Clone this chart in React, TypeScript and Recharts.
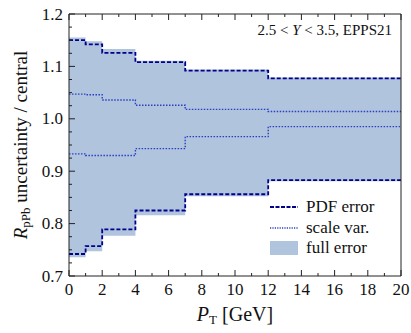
import React from "react";
import { ComposedChart, Area, Line, XAxis, YAxis } from "recharts";

// bin edges in pT (GeV), one value per bin for each band edge
const edges = [0, 1, 2, 4, 7, 12, 20];
const fullHi = [1.155, 1.148, 1.133, 1.111, 1.094, 1.079];
const fullLo = [0.736, 0.747, 0.777, 0.816, 0.852, 0.881];
const pdfHi = [1.15, 1.142, 1.126, 1.108, 1.092, 1.077];
const pdfLo = [0.742, 0.757, 0.789, 0.825, 0.856, 0.883];
const scaleHi = [1.047, 1.046, 1.036, 1.026, 1.018, 1.014];
const scaleLo = [0.933, 0.93, 0.93, 0.943, 0.966, 0.985];

const xTicks = [0, 1, 2, 3, 4, 5, 6, 7, 8, 9, 10, 11, 12, 13, 14, 15, 16, 17, 18, 19, 20];
const yTicks = [
  0.7, 0.725, 0.75, 0.775, 0.8, 0.825, 0.85, 0.875, 0.9, 0.925, 0.95,
  0.975, 1.0, 1.025, 1.05, 1.075, 1.1, 1.125, 1.15, 1.175, 1.2,
];

const nBins = fullHi.length;
const data = edges.map((x, i) => {
  const b = Math.min(i, nBins - 1);
  return {
    x,
    full: [fullLo[b], fullHi[b]],
    pdfHi: pdfHi[b],
    pdfLo: pdfLo[b],
    scaleHi: scaleHi[b],
    scaleLo: scaleLo[b],
  };
});

const FONT = "Liberation Serif, Times New Roman, Times, DejaVu Serif, serif";
const AXIS = "#222";
const BAND = "#b0c4de";
const PDF = "#00008b";
const SCALE = "#2b3fc4";

const isMajorY = (v: number) => Math.abs(v * 10 - Math.round(v * 10)) < 1e-6;

function LeftTick({ x, y, payload }: any) {
  const major = isMajorY(payload.value);
  return (
    <g>
      <line x1={x} x2={x + (major ? 6 : 3)} y1={y} y2={y} stroke={AXIS} />
      {major && (
        <text x={x - 6} y={y} textAnchor="end" dominantBaseline="central" fontSize={17} fontFamily={FONT} fill="#111">
          {payload.value.toFixed(1)}
        </text>
      )}
    </g>
  );
}

function RightTick({ x, y, payload }: any) {
  const major = isMajorY(payload.value);
  return <line x1={x} x2={x - (major ? 6 : 3)} y1={y} y2={y} stroke={AXIS} />;
}

function BottomTick({ x, y, payload }: any) {
  const major = payload.value % 2 === 0;
  return (
    <g>
      <line x1={x} x2={x} y1={y} y2={y - (major ? 6 : 3)} stroke={AXIS} />
      {major && (
        <text x={x} y={y + 19} textAnchor="middle" fontSize={17} fontFamily={FONT} fill="#111">
          {payload.value}
        </text>
      )}
    </g>
  );
}

function TopTick({ x, y, payload }: any) {
  const major = payload.value % 2 === 0;
  return <line x1={x} x2={x} y1={y} y2={y + (major ? 6 : 3)} stroke={AXIS} />;
}

export default function App() {
  return (
    <div style={{ position: "absolute", left: 0, top: 0, width: 411, height: 333, background: "#fff", fontFamily: FONT }}>
      <ComposedChart width={411} height={333} data={data} margin={{ top: 0, right: 0, bottom: 27, left: 0 }}>
        <XAxis
          dataKey="x"
          type="number"
          domain={[0, 20]}
          ticks={xTicks}
          interval={0}
          tickSize={0}
          tickMargin={0}
          tickLine={false}
          axisLine={{ stroke: AXIS }}
          tick={<BottomTick />}
          height={30}
          allowDataOverflow
        />
        <XAxis
          xAxisId="top"
          orientation="top"
          dataKey="x"
          type="number"
          domain={[0, 20]}
          ticks={xTicks}
          interval={0}
          tickSize={0}
          tickMargin={0}
          tickLine={false}
          axisLine={{ stroke: AXIS }}
          tick={<TopTick />}
          height={14}
        />
        <YAxis
          type="number"
          domain={[0.7, 1.2]}
          ticks={yTicks}
          interval={0}
          tickSize={0}
          tickMargin={0}
          tickLine={false}
          axisLine={{ stroke: AXIS }}
          tick={<LeftTick />}
          width={69}
          allowDataOverflow
        />
        <YAxis
          yAxisId="right"
          orientation="right"
          type="number"
          domain={[0.7, 1.2]}
          ticks={yTicks}
          interval={0}
          tickSize={0}
          tickMargin={0}
          tickLine={false}
          axisLine={{ stroke: AXIS }}
          tick={<RightTick />}
          width={10}
        />
        <Area
          type="stepAfter"
          dataKey="full"
          fill={BAND}
          fillOpacity={1}
          stroke="none"
          isAnimationActive={false}
        />
        <Line type="stepAfter" dataKey="scaleHi" stroke={SCALE} strokeWidth={1.4} strokeDasharray="1.5 1.5" dot={false} isAnimationActive={false} />
        <Line type="stepAfter" dataKey="scaleLo" stroke={SCALE} strokeWidth={1.4} strokeDasharray="1.5 1.5" dot={false} isAnimationActive={false} />
        <Line type="stepAfter" dataKey="pdfHi" stroke={PDF} strokeWidth={1.8} strokeDasharray="4 2" dot={false} isAnimationActive={false} />
        <Line type="stepAfter" dataKey="pdfLo" stroke={PDF} strokeWidth={1.8} strokeDasharray="4 2" dot={false} isAnimationActive={false} />
      </ComposedChart>

      {/* annotation */}
      <div style={{ position: "absolute", right: 19, top: 22, fontSize: 15, color: "#111", whiteSpace: "nowrap" }}>
        2.5 &lt; <i>Y</i> &lt; 3.5, EPPS21
      </div>

      {/* legend */}
      <div style={{ position: "absolute", left: 270, top: 197, fontSize: 17, color: "#111", lineHeight: "20.5px" }}>
        <div style={{ display: "flex", alignItems: "center" }}>
          <svg width={28} height={10} style={{ marginRight: 8 }}>
            <line x1={0} x2={28} y1={5} y2={5} stroke={PDF} strokeWidth={2} strokeDasharray="4 1.5" />
          </svg>
          PDF error
        </div>
        <div style={{ display: "flex", alignItems: "center" }}>
          <svg width={28} height={10} style={{ marginRight: 8 }}>
            <line x1={0} x2={28} y1={5} y2={5} stroke={SCALE} strokeWidth={1.6} strokeDasharray="1.2 1.2" />
          </svg>
          scale var.
        </div>
        <div style={{ display: "flex", alignItems: "center" }}>
          <svg width={28} height={14} style={{ marginRight: 8 }}>
            <rect x={0} y={0} width={28} height={14} fill={BAND} />
          </svg>
          full error
        </div>
      </div>

      {/* x label */}
      <div style={{ position: "absolute", left: 0, width: 470, textAlign: "center", top: 303, fontSize: 20, color: "#111", whiteSpace: "nowrap", lineHeight: "22px" }}>
        <i>P</i>
        <sub style={{ fontSize: 13, verticalAlign: "-3px" }}>T</sub> [GeV]
      </div>

      {/* y label */}
      <div
        style={{
          position: "absolute",
          left: 23,
          top: 145,
          transform: "translate(-50%, -50%) rotate(-90deg)",
          fontSize: 19,
          color: "#111",
          whiteSpace: "nowrap",
          lineHeight: "22px",
        }}
      >
        <i>R</i>
        <sub style={{ fontSize: 13, verticalAlign: "-3px" }}>pPb</sub> uncertainty / central
      </div>
    </div>
  );
}
